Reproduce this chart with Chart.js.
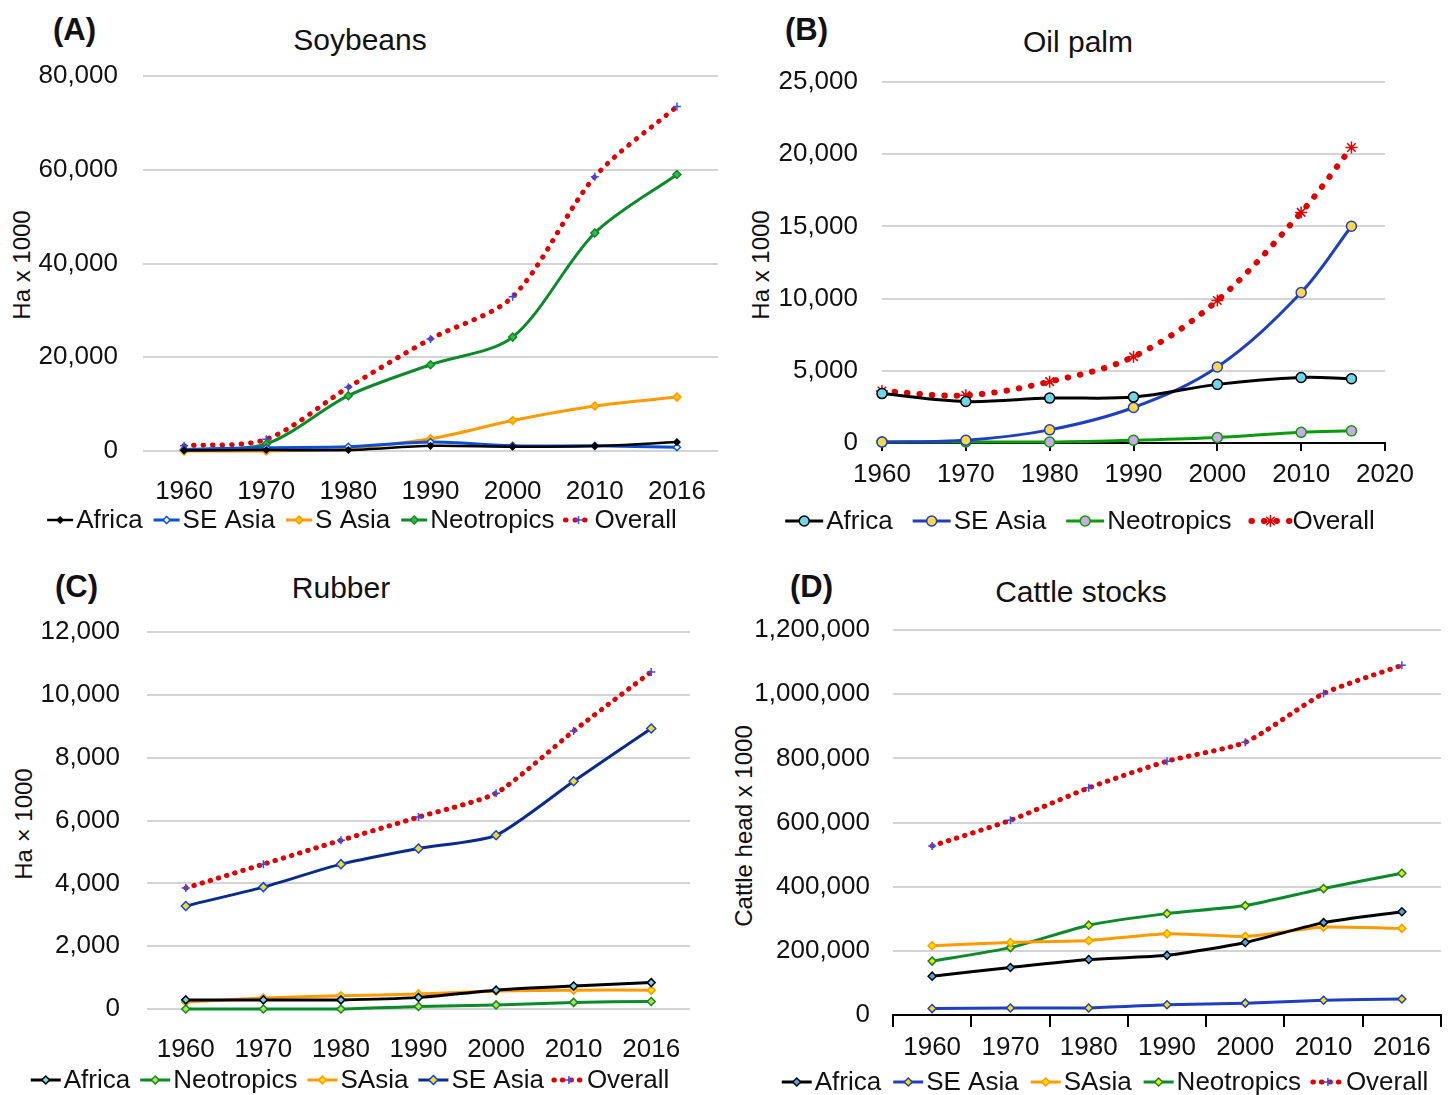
<!DOCTYPE html>
<html>
<head>
<meta charset="utf-8">
<script src="https://cdn.jsdelivr.net/npm/chart.js@4.4.0/dist/chart.umd.min.js"></script>
<style>
body { margin: 0; background: #fff; width: 1453px; height: 1095px; position: relative; overflow: hidden;
       font-family: 'Liberation Sans', Arial, sans-serif; color: #111; }
canvas { position: absolute; }
.lbl { position: absolute; white-space: nowrap; line-height: 1; }
.tag { font-weight: bold; font-size: 31px; }
.ttl { font-size: 30px; transform: translateX(-50%); }
.ytl { font-size: 24px; transform: translate(-50%, -50%) rotate(-90deg); }
</style>
</head>
<body>
<div class="lbl tag" style="left:53px;top:14px">(A)</div>
<div class="lbl ttl" style="left:360px;top:25px">Soybeans</div>
<div class="lbl ytl" style="left:22px;top:265px">Ha x 1000</div>

<div class="lbl tag" style="left:785px;top:14px">(B)</div>
<div class="lbl ttl" style="left:1078px;top:27px">Oil palm</div>
<div class="lbl ytl" style="left:761px;top:265px">Ha x 1000</div>

<div class="lbl tag" style="left:55px;top:571px">(C)</div>
<div class="lbl ttl" style="left:341px;top:573px">Rubber</div>
<div class="lbl ytl" style="left:24px;top:824px">Ha × 1000</div>

<div class="lbl tag" style="left:790px;top:571px">(D)</div>
<div class="lbl ttl" style="left:1081px;top:577px">Cattle stocks</div>
<div class="lbl ytl" style="left:744px;top:826px">Cattle head x 1000</div>

<canvas id="cA" width="726" height="548" style="left:0;top:0"></canvas>
<canvas id="cB" width="727" height="548" style="left:726px;top:0"></canvas>
<canvas id="cC" width="726" height="540" style="left:0;top:555px"></canvas>
<canvas id="cD" width="727" height="540" style="left:726px;top:555px"></canvas>

<script>
// categories
const years = ['1960', '1970', '1980', '1990', '2000', '2010', '2016'];
const yearNums = [1960, 1970, 1980, 1990, 2000, 2010, 2016];

// (A) Soybeans, ha x 1000
const soyAfrica = [100, 200, 200, 1100, 900, 1050, 1900];
const soySEAsia = [300, 700, 900, 1900, 1100, 1100, 800];
const soySAsia = [0, 0, 600, 2600, 6500, 9600, 11500];
const soyNeotropics = [200, 1500, 11800, 18400, 24300, 46500, 59000];
const soyOverall = [1100, 2500, 13600, 23900, 32900, 58500, 73500];

// (B) Oil palm, ha x 1000
const palmAfrica = [3420, 2870, 3110, 3180, 4060, 4540, 4450];
const palmSEAsia = [70, 190, 910, 2460, 5260, 10420, 15010];
const palmNeotropics = [70, 70, 70, 190, 380, 740, 840];
const palmOverall = [3600, 3300, 4250, 5980, 9870, 15970, 20460];

// (C) Rubber, ha x 1000
const rubAfrica = [290, 290, 290, 370, 600, 730, 840];
const rubNeotropics = [0, 0, 0, 80, 130, 210, 240];
const rubSAsia = [220, 350, 420, 480, 570, 600, 600];
const rubSEAsia = [3280, 3880, 4610, 5110, 5530, 7250, 8930];
const rubOverall = [3850, 4610, 5370, 6110, 6870, 8850, 10730];

// (D) Cattle stocks, head x 1000
const catAfrica = [121000, 148000, 173000, 186000, 226000, 288000, 322000];
const catSEAsia = [20000, 22000, 22000, 32000, 37000, 46000, 50000];
const catSAsia = [216000, 226000, 232000, 253000, 245000, 274000, 270000];
const catNeotropics = [168000, 210000, 280000, 316000, 341000, 394000, 442000];
const catOverall = [527000, 607000, 708000, 791000, 850000, 1002000, 1090000];

Chart.defaults.font.family = "'Liberation Sans', Arial, sans-serif";
Chart.defaults.font.size = 26;
Chart.defaults.color = '#111';

function drawMarker(ctx, style, x, y, r, fill, stroke, lw) {
    ctx.save();
    ctx.setLineDash([]);
    ctx.lineWidth = lw;
    ctx.fillStyle = fill;
    ctx.strokeStyle = stroke;
    ctx.beginPath();
    if (style === 'circle') {
        ctx.arc(x, y, r, 0, Math.PI * 2);
        ctx.fill(); ctx.stroke();
    } else if (style === 'rectRot') {
        ctx.moveTo(x, y - r); ctx.lineTo(x + r, y); ctx.lineTo(x, y + r); ctx.lineTo(x - r, y);
        ctx.closePath();
        ctx.fill(); ctx.stroke();
    } else {
        ctx.moveTo(x - r, y); ctx.lineTo(x + r, y);
        ctx.moveTo(x, y - r); ctx.lineTo(x, y + r);
        if (style === 'star') {
            const d = r * 0.7;
            ctx.moveTo(x - d, y - d); ctx.lineTo(x + d, y + d);
            ctx.moveTo(x - d, y + d); ctx.lineTo(x + d, y - d);
        }
        ctx.stroke();
    }
    ctx.restore();
}

// Excel style legend: line sample with marker in the middle, then label
const excelLegend = {
    id: 'excelLegend',
    afterDraw(chart, args, o) {
        const ctx = chart.ctx;
        ctx.save();
        ctx.font = "26px 'Liberation Sans', Arial, sans-serif";
        const items = chart.data.datasets.map(d => ({ d, w: ctx.measureText(d.label).width }));
        const total = items.reduce((s, it) => s + o.lineLen + 3 + it.w, 0) + o.gap * (items.length - 1);
        let x = o.cx - total / 2;
        items.forEach(it => {
            const d = it.d;
            ctx.save();
            ctx.strokeStyle = d.borderColor;
            ctx.lineWidth = d.borderWidth;
            ctx.lineCap = d.borderCapStyle || 'butt';
            ctx.setLineDash(d.borderDash || []);
            ctx.beginPath();
            ctx.moveTo(x, o.y);
            ctx.lineTo(x + o.lineLen, o.y);
            ctx.stroke();
            ctx.restore();
            drawMarker(ctx, d.pointStyle, x + o.lineLen / 2, o.y, d.pointRadius,
                d.pointBackgroundColor, d.pointBorderColor, d.pointBorderWidth);
            ctx.fillStyle = '#111';
            ctx.textAlign = 'left';
            ctx.textBaseline = 'middle';
            ctx.fillText(d.label, x + o.lineLen + 3, o.y + 1);
            x += o.lineLen + 3 + it.w + o.gap;
        });
        ctx.restore();
    }
};

function series(label, values, color, marker, opts) {
    const s = Object.assign({
        lineWidth: 2.5, radius: 4, fill: color, edge: color, tension: 0.3, dotted: false, xs: null
    }, opts || {});
    const ds = {
        label: label,
        data: s.xs ? s.xs.map((x, i) => ({ x: x, y: values[i] })) : values,
        borderColor: color,
        borderWidth: s.lineWidth,
        tension: s.tension,
        pointStyle: marker,
        pointRadius: s.radius,
        pointBackgroundColor: s.fill,
        pointBorderColor: s.edge,
        pointBorderWidth: 1.5,
        clip: false
    };
    if (s.dotted) {
        ds.borderDash = [0.5, s.dotGap || 9];
        ds.borderCapStyle = 'round';
    }
    return ds;
}

function makeChart(id, cfg) {
    const yScale = {
        min: 0, max: cfg.yMax,
        border: { display: false },
        grid: { color: '#d4d4d4', lineWidth: 2, drawTicks: false },
        ticks: { stepSize: cfg.yStep, padding: cfg.yPad, callback: v => v.toLocaleString('en-US') },
        afterFit: s => { s.width = cfg.yWidth; }
    };
    return new Chart(document.getElementById(id), {
        type: 'line',
        data: { labels: cfg.labels, datasets: cfg.datasets },
        options: {
            responsive: false,
            animation: false,
            layout: { padding: cfg.padding },
            plugins: { legend: { display: false }, tooltip: { enabled: false }, excelLegend: cfg.legend },
            scales: { x: Object.assign({ afterFit: s => { s.height = cfg.xHeight; } }, cfg.x), y: yScale }
        },
        plugins: [excelLegend]
    });
}

// (A) Soybeans
makeChart('cA', {
    labels: years,
    yMax: 80000, yStep: 20000, yPad: 25, yWidth: 143, xHeight: 97,
    padding: { left: 0, top: 76, right: 8, bottom: 0 },
    x: { type: 'category', offset: true, grid: { display: false }, border: { display: false }, ticks: { padding: 17 } },
    legend: { y: 520, cx: 362, lineLen: 26, gap: 11 },
    datasets: [
        series('Africa', soyAfrica, '#000000', 'rectRot', { radius: 3, lineWidth: 2.5 }),
        series('SE Asia', soySEAsia, '#0a4fd6', 'rectRot', { radius: 3.5, fill: '#ffffff', lineWidth: 3 }),
        series('S Asia', soySAsia, '#ff9a00', 'rectRot', { radius: 4, fill: '#ffc000', lineWidth: 3 }),
        series('Neotropics', soyNeotropics, '#0b8a2a', 'rectRot', { radius: 4, fill: '#3cb44b', lineWidth: 3 }),
        series('Overall', soyOverall, '#e00000', 'cross', { radius: 4, edge: '#3050ff', lineWidth: 5, dotted: true, dotGap: 9 })
    ]
});

// (B) Oil palm
makeChart('cB', {
    labels: [],
    yMax: 25000, yStep: 5000, yPad: 24, yWidth: 156, xHeight: 105,
    padding: { left: 0, top: 82, right: 68, bottom: 0 },
    x: {
        type: 'linear', min: 1960, max: 2020,
        border: { display: true, color: '#000', width: 2 },
        grid: { drawOnChartArea: false, drawTicks: true, tickLength: 8, color: '#000', lineWidth: 2 },
        ticks: { stepSize: 10, padding: 8, callback: v => String(v) }
    },
    legend: { y: 521, cx: 354, lineLen: 38, gap: 20 },
    datasets: [
        series('Africa', palmAfrica, '#000000', 'circle', { xs: yearNums, radius: 5, fill: '#6fd6ea', lineWidth: 3, tension: 0.35 }),
        series('SE Asia', palmSEAsia, '#1f3fbf', 'circle', { xs: yearNums, radius: 5, fill: '#ffd84a', lineWidth: 3, tension: 0.35 }),
        series('Neotropics', palmNeotropics, '#0a9a0a', 'circle', { xs: yearNums, radius: 5, fill: '#d0a8e8', lineWidth: 3, tension: 0.35 }),
        series('Overall', palmOverall, '#e00000', 'star', { xs: yearNums, radius: 6, edge: '#e00000', lineWidth: 6, dotted: true, dotGap: 12, tension: 0.35 })
    ]
});

// (C) Rubber
makeChart('cC', {
    labels: years,
    yMax: 12000, yStep: 2000, yPad: 27, yWidth: 147, xHeight: 86,
    padding: { left: 0, top: 77, right: 36, bottom: 0 },
    x: { type: 'category', offset: true, grid: { display: false }, border: { display: false }, ticks: { padding: 17 } },
    legend: { y: 525, cx: 350, lineLen: 30, gap: 10 },
    datasets: [
        series('Africa', rubAfrica, '#000000', 'rectRot', { radius: 4, fill: '#6fd6ea', lineWidth: 3, tension: 0.2 }),
        series('Neotropics', rubNeotropics, '#0b8a2a', 'rectRot', { radius: 4, fill: '#b8e04a', lineWidth: 3, tension: 0.2 }),
        series('SAsia', rubSAsia, '#ff9a00', 'rectRot', { radius: 4, fill: '#ffe000', lineWidth: 3, tension: 0.2 }),
        series('SE Asia', rubSEAsia, '#0a2a8c', 'rectRot', { radius: 4.5, fill: '#ffe000', edge: '#1040ff', lineWidth: 3, tension: 0.2 }),
        series('Overall', rubOverall, '#e00000', 'cross', { radius: 4, edge: '#3050ff', lineWidth: 5, dotted: true, dotGap: 8, tension: 0.2 })
    ]
});

// (D) Cattle stocks
makeChart('cD', {
    labels: years,
    yMax: 1200000, yStep: 200000, yPad: 23, yWidth: 167, xHeight: 80,
    padding: { left: 0, top: 75, right: 12, bottom: 0 },
    x: {
        type: 'category', offset: true,
        border: { display: true, color: '#000', width: 2 },
        grid: { offset: true, drawOnChartArea: false, drawTicks: true, tickLength: 12, color: '#000', lineWidth: 2 },
        ticks: { padding: 5 }
    },
    legend: { y: 527, cx: 379, lineLen: 30, gap: 12 },
    datasets: [
        series('Africa', catAfrica, '#000000', 'rectRot', { radius: 4, fill: '#4aa8e8', lineWidth: 3, tension: 0.2 }),
        series('SE Asia', catSEAsia, '#1f3fbf', 'rectRot', { radius: 4, fill: '#ffe000', lineWidth: 3, tension: 0.2 }),
        series('SAsia', catSAsia, '#ff9a00', 'rectRot', { radius: 4, fill: '#ffe000', lineWidth: 3, tension: 0.2 }),
        series('Neotropics', catNeotropics, '#0b8a2a', 'rectRot', { radius: 4, fill: '#ffe000', lineWidth: 3, tension: 0.2 }),
        series('Overall', catOverall, '#e00000', 'cross', { radius: 4, edge: '#3050ff', lineWidth: 5, dotted: true, dotGap: 8, tension: 0.2 })
    ]
});
</script>
</body>
</html>
